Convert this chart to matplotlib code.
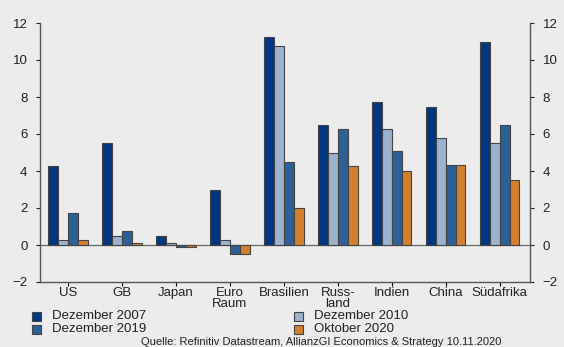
import numpy as np
import matplotlib
matplotlib.use("Agg")
import matplotlib.pyplot as plt
from matplotlib.patches import Rectangle

plt.rcParams['font.family'] = ['Liberation Sans', 'DejaVu Sans']

# data
laender = ["US", "GB", "Japan", "Euro\nRaum", "Brasilien", "Russ-\nland", "Indien", "China", "Südafrika"]
dez_2007 = [4.25, 5.5, 0.5, 3.0, 11.25, 6.5, 7.75, 7.45, 10.95]
dez_2010 = [0.25, 0.5, 0.1, 0.25, 10.75, 5.0, 6.25, 5.8, 5.5]
dez_2019 = [1.75, 0.75, -0.1, -0.5, 4.5, 6.25, 5.1, 4.3, 6.5]
okt_2020 = [0.25, 0.1, -0.1, -0.5, 2.0, 4.25, 4.0, 4.3, 3.5]

serien = ["Dezember 2007", "Dezember 2010", "Dezember 2019", "Oktober 2020"]
farben = ["#003781", "#9cb2cf", "#2e5f96", "#d2802e"]
bg = "#ececec"
edge = "#444444"

fig = plt.figure(figsize=(5.64, 3.47), dpi=100, facecolor=bg)
ax = fig.add_axes([40/564, 1 - 282/347, 490/564, 259/347], facecolor=bg)

x = np.arange(len(laender))
w = 0.182
for i, (vals, col) in enumerate(zip([dez_2007, dez_2010, dez_2019, okt_2020], farben)):
    ax.bar(x + (i - 1.5) * w, vals, w, color=col, edgecolor=edge, linewidth=0.8, zorder=2)

ax.axhline(0, color="#666666", linewidth=0.9, zorder=1)
ax.set_xlim(-0.52, 8.56)
ax.set_ylim(-2, 12)
ax.set_yticks(range(-2, 13, 2))
ax.set_xticks(x)
ax.set_xticklabels(laender, fontsize=9.5, color="#222222", linespacing=0.95)
ax.tick_params(axis='y', labelsize=9.5, colors="#222222", length=3, width=0.8, direction='out',
               left=True, right=True, labelleft=True, labelright=True, pad=6)
ax.tick_params(axis='x', length=3, width=0.8, pad=0.5)

ax.spines["top"].set_visible(False)
for s in ["left", "right", "bottom"]:
    ax.spines[s].set_color("#555555")
    ax.spines[s].set_linewidth(1.0)

# legend
pos = [(32, 316), (294, 316), (32, 329), (294, 329)]
for (px, py), lab, col in zip(pos, serien, farben):
    fig.patches.append(Rectangle((px / 564, 1 - (py + 4.5) / 347), 9 / 564, 9 / 347,
                                 transform=fig.transFigure, facecolor=col, edgecolor=edge, linewidth=0.8))
    fig.text((px + 20) / 564, 1 - py / 347, lab, fontsize=9.5, color="#222222", va="center")

fig.text(501 / 564, 1 - 342 / 347, "Quelle: Refinitiv Datastream, AllianzGI Economics & Strategy 10.11.2020",
         fontsize=8, color="#222222", ha="right", va="center")

fig.savefig("out.png", dpi=100, facecolor=bg)
